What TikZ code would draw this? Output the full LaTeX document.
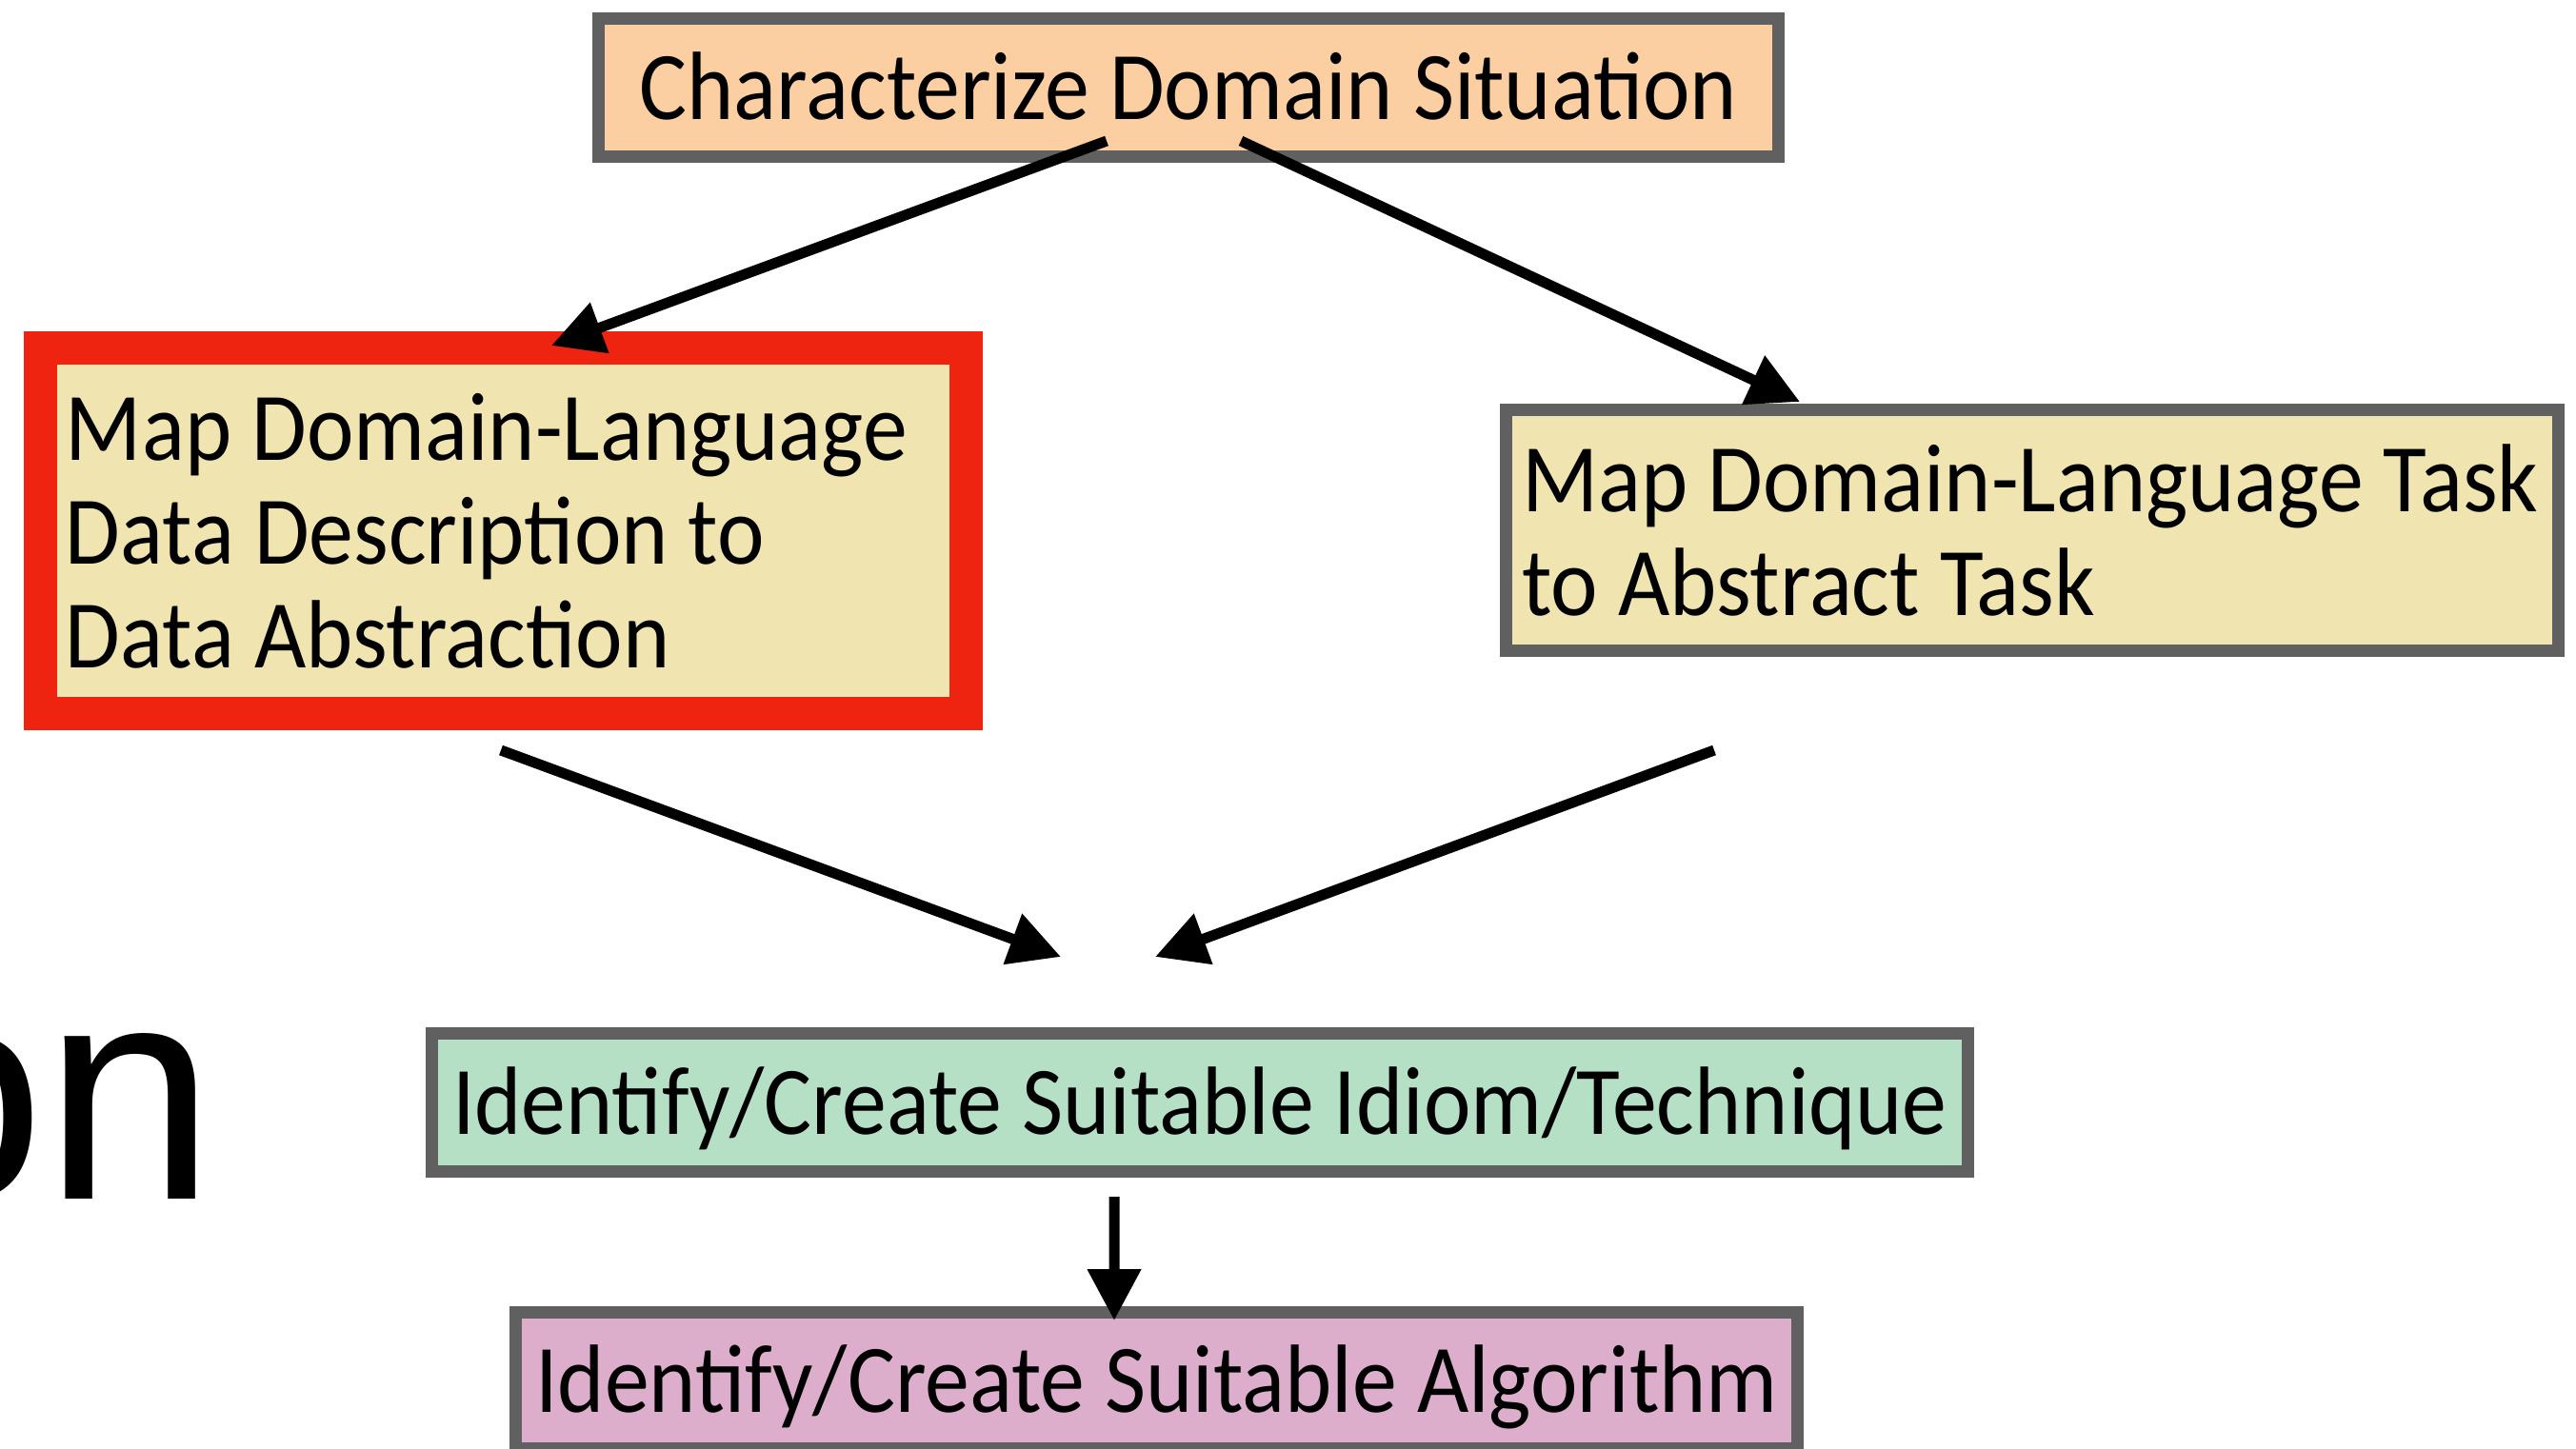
\documentclass[tikz,border=0pt]{standalone}
\usepackage{fontspec}
\setmainfont{Carlito}[FakeStretch=0.92]
\newfontfamily\headfont{Liberation Sans}
\usetikzlibrary{arrows.meta,positioning}
\definecolor{stagegray}{RGB}{96,96,96}
\definecolor{stagered}{RGB}{238,36,17}
\definecolor{stagepeach}{RGB}{251,207,161}
\definecolor{stagesand}{RGB}{240,229,177}
\definecolor{stagemint}{RGB}{181,224,198}
\definecolor{stagemauve}{RGB}{220,174,203}

\begin{document}
\begin{tikzpicture}[font=\fontsize{29}{31}\selectfont,
    stage/.style={draw=stagegray,line width=0.13cm,rectangle,inner sep=0pt,outer sep=0pt},
    oneline/.style={text height=0.66cm,text depth=0pt},
    flow/.style={line width=0.11cm,-{Triangle[length=0.54cm,width=0.54cm]}}]
  \useasboundingbox (0,0) rectangle (27.05,-15.21);
  % slide title, cut at the left edge
  \node[font=\headfont\fontsize{92}{92}\selectfont,inner sep=0pt,anchor=base east] (title) at (2.275,-12.59) {on};
  % the nested stages
  \node[stage,oneline,fill=stagepeach,minimum width=12.39cm,minimum height=1.45cm] (situation) at (12.48,-0.92) {Characterize Domain Situation};
  \node[stage,draw=stagered,line width=0.35cm,fill=stagesand,minimum width=9.72cm,minimum height=3.84cm,
    inner xsep=0.265cm,text width=9.19cm,align=flush left] (data) at (5.285,-5.575)
    {\mbox{Map Domain-Language}\\\mbox{Data Description to}\\\mbox{Data Abstraction}};
  \node[stage,fill=stagesand,minimum width=11.05cm,minimum height=2.53cm,
    inner xsep=0.165cm,text width=10.72cm,align=flush left] (task) at (21.34,-5.57)
    {\mbox{Map Domain-Language Task}\\\mbox{to Abstract Task}};
  \node[stage,oneline,fill=stagemint,minimum width=16.13cm,minimum height=1.45cm] (idiom) at (12.60,-11.58) {Identify/Create Suitable Idiom/Technique};
  \node[stage,oneline,fill=stagemauve,minimum width=13.46cm,minimum height=1.43cm] (algo) at (12.145,-14.50) {Identify/Create Suitable Algorithm};
  % connectors
  \draw[flow] ([xshift=-0.86cm,yshift=0.165cm]situation.south) -- ([xshift=0.505cm,yshift=0.025cm]data.north);
  \draw[flow] ([xshift=0.55cm,yshift=0.165cm]situation.south) -- ([xshift=3.085cm,yshift=0.085cm]task.north west);
  \draw[flow] ([xshift=-0.025cm,yshift=-0.385cm]data.south) -- ([xshift=-1.46cm,yshift=0.805cm]idiom.north);
  \draw[flow] ([xshift=2.185cm,yshift=-1.045cm]task.south west) -- ([xshift=-0.47cm,yshift=0.805cm]idiom.north);
  \draw[flow] ([xshift=-0.90cm,yshift=-0.265cm]idiom.south) -- ([xshift=-0.445cm,yshift=-0.085cm]algo.north);
\end{tikzpicture}
\end{document}
